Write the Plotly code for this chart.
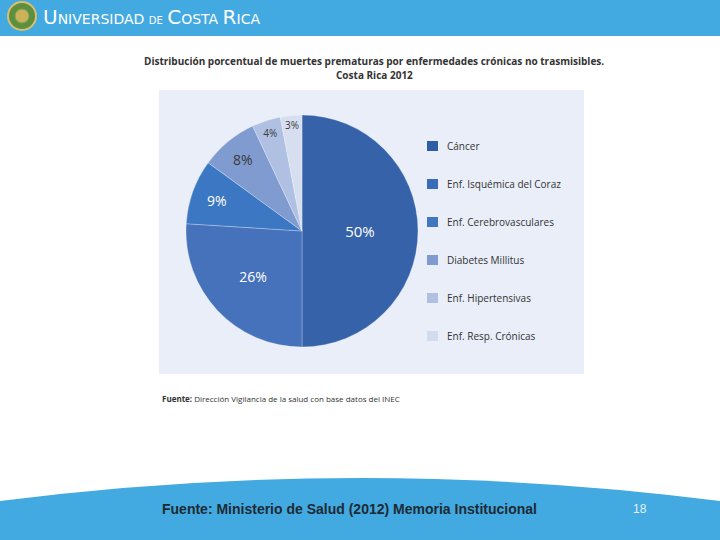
import plotly.graph_objects as go

W, H = 720, 540

categories = ["Cáncer", "Enf. Isquémica del Coraz", "Enf. Cerebrovasculares",
              "Diabetes Millitus", "Enf. Hipertensivas", "Enf. Resp. Crónicas"]
values = [50, 26, 9, 8, 4, 3]
colors = ["#3562A8", "#4572BA", "#3B77C3", "#7F9BCF", "#AFC0E3", "#D7DEF0"]
legend_colors = ["#2F5DA3", "#3A6DB8", "#4277BF", "#7F9BCF", "#AFC0E3", "#D3DBEE"]
text_colors = ["white", "white", "white", "#3a3a3a", "#3a3a3a", "#3a3a3a"]
text_sizes = [15, 14, 14, 14, 10, 10]

title_line1 = "Distribución porcentual de muertes prematuras por enfermedades crónicas no trasmisibles."
title_line2 = "Costa Rica 2012"
source_small = "<b>Fuente:</b> Dirección Vigilancia de la salud con base datos del INEC"
footer_text = "Fuente: Ministerio de Salud (2012) Memoria Institucional"
page_number = "18"


def px(x):
    return x / W


def py(y):
    return 1 - y / H


CHART_FONT = "Open Sans"

# pie geometry (pixels)
cx, cy, r = 302, 231, 116

fig = go.Figure()
fig.add_trace(go.Pie(
    labels=categories,
    values=values,
    sort=False,
    direction="clockwise",
    rotation=0,
    marker=dict(colors=colors, line=dict(color="rgba(255,255,255,0.45)", width=0.6)),
    texttemplate="%{value}%",
    textposition="inside",
    insidetextorientation="horizontal",
    textfont=dict(family=CHART_FONT, color=text_colors, size=text_sizes),
    hoverinfo="label+percent",
    showlegend=False,
    domain=dict(x=[px(cx - r), px(cx + r)], y=[py(cy + r), py(cy - r)]),
))

shapes = []
annotations = []

# header bar
shapes.append(dict(type="rect", xref="paper", yref="paper",
                   x0=0, x1=1, y0=py(36), y1=1,
                   fillcolor="#42A9E1", line=dict(width=0), layer="below"))
# logo (approximation)
shapes.append(dict(type="circle", xref="paper", yref="paper",
                   x0=px(8), x1=px(36), y0=py(30), y1=py(2),
                   fillcolor="#5E8F3E", line=dict(color="#D8C070", width=2), layer="above"))
shapes.append(dict(type="circle", xref="paper", yref="paper",
                   x0=px(15), x1=px(29), y0=py(23), y1=py(9),
                   fillcolor="#C9B25A", line=dict(color="#7AA34F", width=1), layer="above"))

annotations.append(dict(
    xref="paper", yref="paper", x=px(41), y=py(17), xanchor="left", yanchor="middle",
    text=("<span style='font-size:20px'>U</span>NIVERSIDAD "
          "<span style='font-size:10px'>DE</span> "
          "<span style='font-size:20px'>C</span>OSTA "
          "<span style='font-size:20px'>R</span>ICA"),
    font=dict(family="DejaVu Sans", size=14, color="white"),
    showarrow=False))

# chart panel
shapes.append(dict(type="rect", xref="paper", yref="paper",
                   x0=px(159), x1=px(584), y0=py(374), y1=py(90),
                   fillcolor="#E9EEF8", line=dict(width=0), layer="below"))

# chart title
annotations.append(dict(xref="paper", yref="paper", x=px(374), y=py(61),
                        xanchor="center", yanchor="middle",
                        text="<b>" + title_line1 + "</b>",
                        font=dict(family=CHART_FONT, size=10, color="#333333"),
                        showarrow=False))
annotations.append(dict(xref="paper", yref="paper", x=px(374), y=py(75),
                        xanchor="center", yanchor="middle",
                        text="<b>" + title_line2 + "</b>",
                        font=dict(family=CHART_FONT, size=10, color="#333333"),
                        showarrow=False))

# manual legend
for i, (lab, col) in enumerate(zip(categories, legend_colors)):
    yc = 146 + 38 * i
    shapes.append(dict(type="rect", xref="paper", yref="paper",
                       x0=px(427), x1=px(438), y0=py(yc + 5), y1=py(yc - 5),
                       fillcolor=col, line=dict(width=0)))
    annotations.append(dict(xref="paper", yref="paper", x=px(445), y=py(yc),
                            xanchor="left", yanchor="middle", text=lab,
                            font=dict(family=CHART_FONT, size=10, color="#333333"),
                            showarrow=False))

# small source
annotations.append(dict(xref="paper", yref="paper", x=px(160), y=py(398),
                        xanchor="left", yanchor="middle", text=source_small,
                        font=dict(family=CHART_FONT, size=8, color="#333333"),
                        showarrow=False))

# footer curved band
path = "M {:.5f},{:.5f} Q {:.5f},{:.5f} {:.5f},{:.5f} L {:.5f},{:.5f} L {:.5f},{:.5f} Z".format(
    px(0), py(501), px(360), py(455), px(720), py(501), px(720), py(540), px(0), py(540))
shapes.append(dict(type="path", xref="paper", yref="paper", path=path,
                   fillcolor="#42A9E1", line=dict(width=0), layer="below"))

annotations.append(dict(xref="paper", yref="paper", x=px(349), y=py(509),
                        xanchor="center", yanchor="middle",
                        text="<b>" + footer_text + "</b>",
                        font=dict(family="Liberation Sans", size=14, color="#1E2A33"),
                        showarrow=False))
annotations.append(dict(xref="paper", yref="paper", x=px(640), y=py(509),
                        xanchor="center", yanchor="middle", text=page_number,
                        font=dict(family="Liberation Sans", size=12, color="#E6F3FB"),
                        showarrow=False))

fig.update_layout(
    width=W, height=H,
    margin=dict(l=0, r=0, t=0, b=0),
    paper_bgcolor="white",
    plot_bgcolor="white",
    shapes=shapes,
    annotations=annotations,
    showlegend=False,
)

fig.write_html(
    "out.html",
    config={"displayModeBar": False},
    post_script="document.body.style.margin='0px';document.body.style.padding='0px';"
                "document.body.style.overflow='hidden';",
)
